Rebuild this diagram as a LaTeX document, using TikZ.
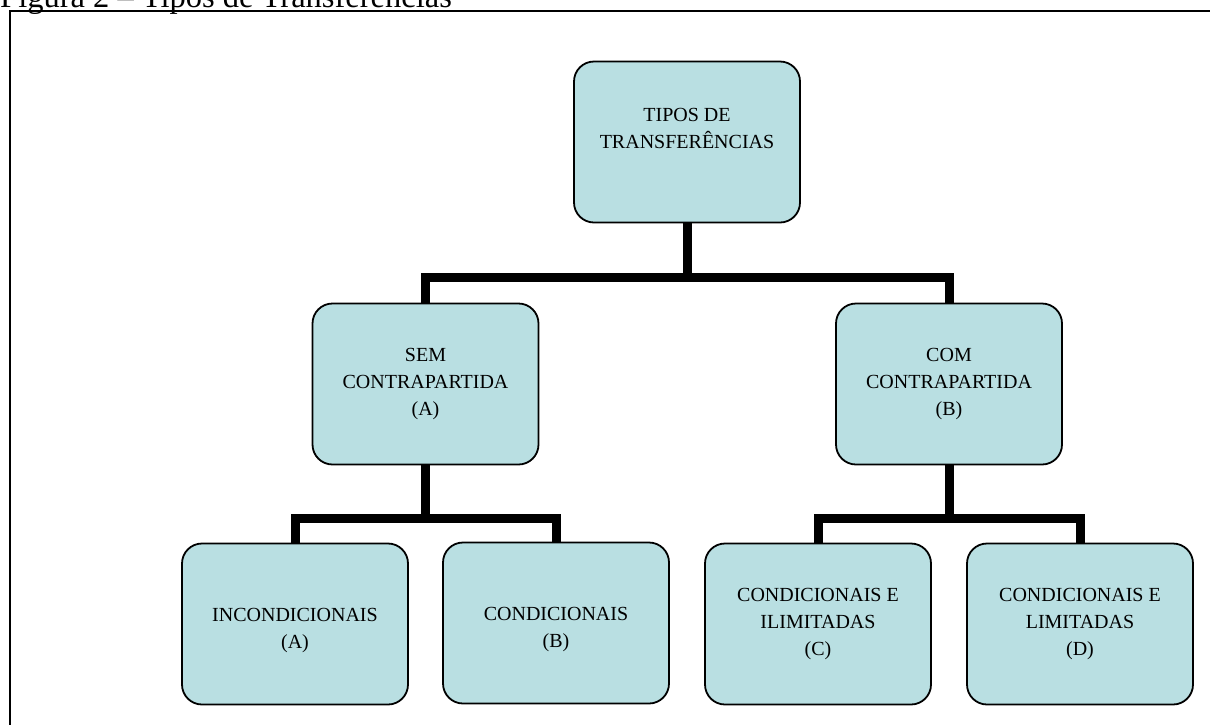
\documentclass[tikz,border=0pt]{standalone}
\usepackage{fontspec}
\setmainfont{Liberation Serif}
\definecolor{boxfill}{RGB}{185,223,226}
\begin{document}
\begin{tikzpicture}[x=1pt,y=-1pt,
  box/.style={draw=black, line width=1.8pt, fill=boxfill, rounded corners=20pt,
    minimum width=226pt, minimum height=161pt, inner sep=0pt, align=center,
    font=\fontsize{20}{27}\selectfont},
  conn/.style={line width=9pt, line join=miter, line cap=butt},
  frame/.style={line width=2.5pt}]
\useasboundingbox (0,0) rectangle (1210,724);
\node[anchor=base west, font=\fontsize{32.5}{36}\selectfont, inner sep=0pt] (cap) at (0,7) {Figura 2 – Tipos de Transferências};
\draw[frame] (10,780) -- (10,11) -- (1260,11);
% nodes
\node[box] (top) at (687,142) {TIPOS DE\\TRANSFERÊNCIAS\\~};
\node[box] (sem) at (425.5,384) {SEM\\CONTRAPARTIDA\\(A)};
\node[box] (com) at (949,384) {COM\\CONTRAPARTIDA\\(B)};
\node[box] (inc) at (295,624) {~\\INCONDICIONAIS\\(A)};
\node[box] (cond) at (556,623) {~\\CONDICIONAIS\\(B)};
\node[box] (ci) at (818,624) {CONDICIONAIS E\\ILIMITADAS\\(C)};
\node[box] (cl) at (1080,624) {CONDICIONAIS E\\LIMITADAS\\(D)};
\coordinate (j1) at (687,277);
\coordinate (j2) at (425.5,518);
\coordinate (j3) at (949,518);
% connectors
\begin{scope}[on background layer/.style={}]
\draw[conn] (top.south) -- (j1);
\draw[conn] (sem.north) -- (sem.north |- j1) -- (com.north |- j1) -- (com.north);
\draw[conn] (sem.south) -- (j2);
\draw[conn] (inc.north) -- (inc.north |- j2) -- (cond.north |- j2) -- (cond.north);
\draw[conn] (com.south) -- (j3);
\draw[conn] (ci.north) -- (ci.north |- j3) -- (cl.north |- j3) -- (cl.north);
\end{scope}
\end{tikzpicture}
\end{document}
